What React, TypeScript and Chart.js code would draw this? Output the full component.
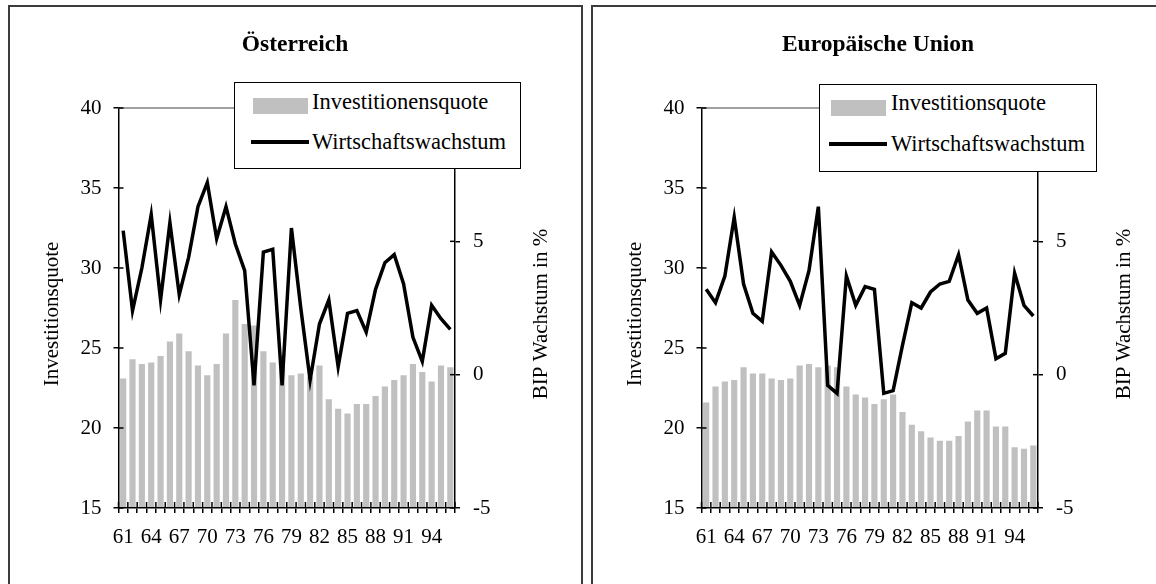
import React, { useEffect, useRef } from 'react';
import { Chart, registerables } from 'chart.js';

Chart.register(...registerables);

// ---------- data ----------
const years = ['61','62','63','64','65','66','67','68','69','70','71','72','73','74','75','76','77','78','79','80','81','82','83','84','85','86','87','88','89','90','91','92','93','94','95','96'];

const atInvest = [23.1,24.3,24.0,24.1,24.5,25.4,25.9,24.8,23.9,23.3,24.0,25.9,28.0,26.5,26.4,24.8,24.1,23.8,23.3,23.4,23.2,23.9,21.8,21.2,20.9,21.5,21.5,22.0,22.6,23.0,23.3,24.0,23.5,22.9,23.9,23.8];
const atGrowth = [5.4,2.4,4.0,6.0,2.8,5.7,3.0,4.4,6.3,7.2,5.1,6.3,4.9,3.9,-0.4,4.6,4.7,-0.4,5.5,2.5,-0.2,1.9,2.8,0.3,2.3,2.4,1.6,3.2,4.2,4.5,3.4,1.4,0.5,2.6,2.1,1.7];

const euInvest = [21.6,22.6,22.9,23.0,23.8,23.4,23.4,23.1,23.0,23.1,23.9,24.0,23.8,23.9,23.8,22.6,22.1,21.9,21.5,21.8,22.1,21.0,20.2,19.8,19.4,19.2,19.2,19.5,20.4,21.1,21.1,20.1,20.1,18.8,18.7,18.9];
const euGrowth = [3.2,2.7,3.7,5.9,3.4,2.3,2.0,4.6,4.1,3.5,2.6,3.9,6.3,-0.4,-0.7,3.7,2.6,3.3,3.2,-0.7,-0.6,1.1,2.7,2.5,3.1,3.4,3.5,4.5,2.8,2.3,2.5,0.6,0.8,3.8,2.6,2.2];

const atTitle = 'Österreich';
const euTitle = 'Europäische Union';
const atLabels = ['Investitionensquote', 'Wirtschaftswachstum'];
const euLabels = ['Investitionsquote', 'Wirtschaftswachstum'];
const leftAxisTitle = 'Investitionsquote';
const rightAxisTitle = 'BIP Wachstum in %';

const leftMin = 15, leftMax = 40, leftStep = 5;
const rightMin = -5, rightMax = 10, rightStep = 5;

// ---------- style ----------
const FONT = '"Liberation Serif", "Times New Roman", Times, serif';
const BAR_COLOR = '#c0c0c0';
const LINE_COLOR = '#000000';

const CANVAS_W = 570;
const CANVAS_H = 577;

const decorPlugin = {
  id: 'decor',
  afterDraw(chart: any, _args: any, opts: any) {
    const { ctx, chartArea: a, scales } = chart;
    const seg = (x1: number, y1: number, x2: number, y2: number) => {
      ctx.beginPath();
      ctx.moveTo(x1, y1);
      ctx.lineTo(x2, y2);
      ctx.stroke();
    };
    ctx.save();
    // plot-area top border
    ctx.strokeStyle = '#808080';
    ctx.lineWidth = 1.5;
    seg(a.left, a.top, a.right, a.top);
    // inner halves of tick marks
    ctx.strokeStyle = '#000';
    ctx.lineWidth = 1.5;
    const ys = scales.y, y1s = scales.y1, xs = scales.x;
    ys.ticks.forEach((t: any) => {
      const p = ys.getPixelForValue(t.value);
      seg(a.left, p, a.left + 5, p);
    });
    y1s.ticks.forEach((t: any) => {
      const p = y1s.getPixelForValue(t.value);
      seg(a.right - 5, p, a.right, p);
    });
    const n = xs.ticks.length;
    for (let i = 0; i <= n; i++) {
      const p = i === 0 ? a.left : i === n ? a.right : (xs.getPixelForTick(i - 1) + xs.getPixelForTick(i)) / 2;
      seg(p, a.bottom - 6, p, a.bottom);
    }
    // axis titles (both read bottom-to-top)
    ctx.fillStyle = '#000';
    ctx.font = `21px ${FONT}`;
    ctx.textAlign = 'center';
    ctx.textBaseline = 'middle';
    const midY = (a.top + a.bottom) / 2 + 6;
    ctx.save();
    ctx.translate(a.left - 66, midY);
    ctx.rotate(-Math.PI / 2);
    ctx.fillText(opts.left, 0, 0);
    ctx.restore();
    ctx.save();
    ctx.translate(a.right + 86, midY);
    ctx.rotate(-Math.PI / 2);
    ctx.fillText(opts.right, 0, 0);
    ctx.restore();
    ctx.restore();
  },
};

type PanelProps = {
  shift: number;
  title: string;
  labels: string[];
  invest: number[];
  growth: number[];
  legend: { left: number; top: number; width: number; height: number; swX: number; swY: number; txX: number; tx1Y: number; tx2Y: number; lnY: number };
};

function Panel({ shift, title, labels, invest, growth, legend }: PanelProps) {
  const ref = useRef<HTMLCanvasElement | null>(null);

  useEffect(() => {
    if (!ref.current) return;
    const chart = new Chart(ref.current, {
      type: 'bar',
      data: {
        labels: years,
        datasets: [
          {
            type: 'line',
            label: labels[1],
            data: growth,
            yAxisID: 'y1',
            borderColor: LINE_COLOR,
            borderWidth: 3.5,
            pointRadius: 0,
            tension: 0,
            fill: false,
            order: 0,
          } as any,
          {
            type: 'bar',
            label: labels[0],
            data: invest,
            yAxisID: 'y',
            backgroundColor: BAR_COLOR,
            borderWidth: 0,
            barPercentage: 0.66,
            categoryPercentage: 1,
            order: 1,
          },
        ],
      },
      options: {
        responsive: false,
        animation: false,
        devicePixelRatio: 1,
        layout: { padding: 0 },
        plugins: {
          legend: { display: false },
          tooltip: { enabled: false },
          title: {
            display: true,
            text: title,
            color: '#000',
            font: { family: FONT, size: 23.5, weight: 'bold' },
            padding: { top: 24, bottom: 48.8 },
          },
          decor: { left: leftAxisTitle, right: rightAxisTitle },
        } as any,
        scales: {
          x: {
            type: 'category',
            offset: true,
            grid: { offset: true, drawOnChartArea: false, drawTicks: true, tickLength: 5, color: '#000', lineWidth: 1.5 },
            border: { display: true, color: '#000', width: 1.5, z: 1 },
            ticks: {
              autoSkip: false,
              maxRotation: 0,
              minRotation: 0,
              padding: 12,
              color: '#000',
              font: { family: FONT, size: 21 },
              callback: (_v: any, i: number) => (i % 3 === 0 ? years[i] : ''),
            },
            afterFit: (s: any) => { s.height = 76; },
          },
          y: {
            position: 'left',
            min: leftMin,
            max: leftMax,
            grid: { drawOnChartArea: false, drawTicks: true, tickLength: 5, color: '#000', lineWidth: 1.5 },
            border: { display: true, color: '#000', width: 1.5 },
            ticks: { stepSize: leftStep, padding: 12, color: '#000', font: { family: FONT, size: 21 } },
            afterFit: (s: any) => { s.width = 108.5; },
          },
          y1: {
            position: 'right',
            min: rightMin,
            max: rightMax,
            grid: { drawOnChartArea: false, drawTicks: true, tickLength: 5, color: '#000', lineWidth: 1.5 },
            border: { display: true, color: '#000', width: 1.5 },
            ticks: { stepSize: rightStep, padding: 13, color: '#000', font: { family: FONT, size: 21 } },
            afterFit: (s: any) => { s.width = CANVAS_W - 445; },
          },
        },
      } as any,
      plugins: [decorPlugin],
    });
    return () => chart.destroy();
  }, [shift, title, labels, invest, growth]);

  const textStyle: React.CSSProperties = {
    position: 'absolute',
    left: legend.txX,
    fontFamily: FONT,
    fontSize: 22.5,
    lineHeight: '24px',
    whiteSpace: 'nowrap',
    color: '#000',
  };

  return (
    <>
      <div
        style={{
          position: 'absolute',
          left: 8 + shift,
          top: 5,
          width: 575,
          height: 700,
          boxSizing: 'border-box',
          border: '2px solid #3c3c3c',
        }}
      />
      <canvas
        ref={ref}
        width={CANVAS_W}
        height={CANVAS_H}
        style={{ position: 'absolute', left: 10 + shift, top: 7, width: CANVAS_W, height: CANVAS_H }}
      />
      <div
        style={{
          position: 'absolute',
          left: legend.left,
          top: legend.top,
          width: legend.width,
          height: legend.height,
          boxSizing: 'border-box',
          border: '1px solid #000',
          background: '#fff',
          zIndex: 2,
        }}
      >
        <div style={{ position: 'absolute', left: legend.swX, top: legend.swY, width: 55, height: 16, background: BAR_COLOR }} />
        <div style={{ ...textStyle, top: legend.tx1Y }}>{labels[0]}</div>
        <div style={{ position: 'absolute', left: legend.swX - 2, top: legend.lnY, width: 58, height: 4, background: LINE_COLOR }} />
        <div style={{ ...textStyle, top: legend.tx2Y }}>{labels[1]}</div>
      </div>
    </>
  );
}

export default function App() {
  return (
    <div style={{ position: 'fixed', left: 0, top: 0, width: 1156, height: 584, overflow: 'hidden', background: '#fff' }}>
      <Panel
        shift={0}
        title={atTitle}
        labels={atLabels}
        invest={atInvest}
        growth={atGrowth}
        legend={{ left: 234, top: 82, width: 287, height: 87, swX: 18, swY: 14.5, txX: 77, tx1Y: 6.5, tx2Y: 47, lnY: 57 }}
      />
      <Panel
        shift={583}
        title={euTitle}
        labels={euLabels}
        invest={euInvest}
        growth={euGrowth}
        legend={{ left: 819, top: 84, width: 278, height: 88, swX: 11, swY: 14.5, txX: 71, tx1Y: 6, tx2Y: 47, lnY: 57 }}
      />
    </div>
  );
}
